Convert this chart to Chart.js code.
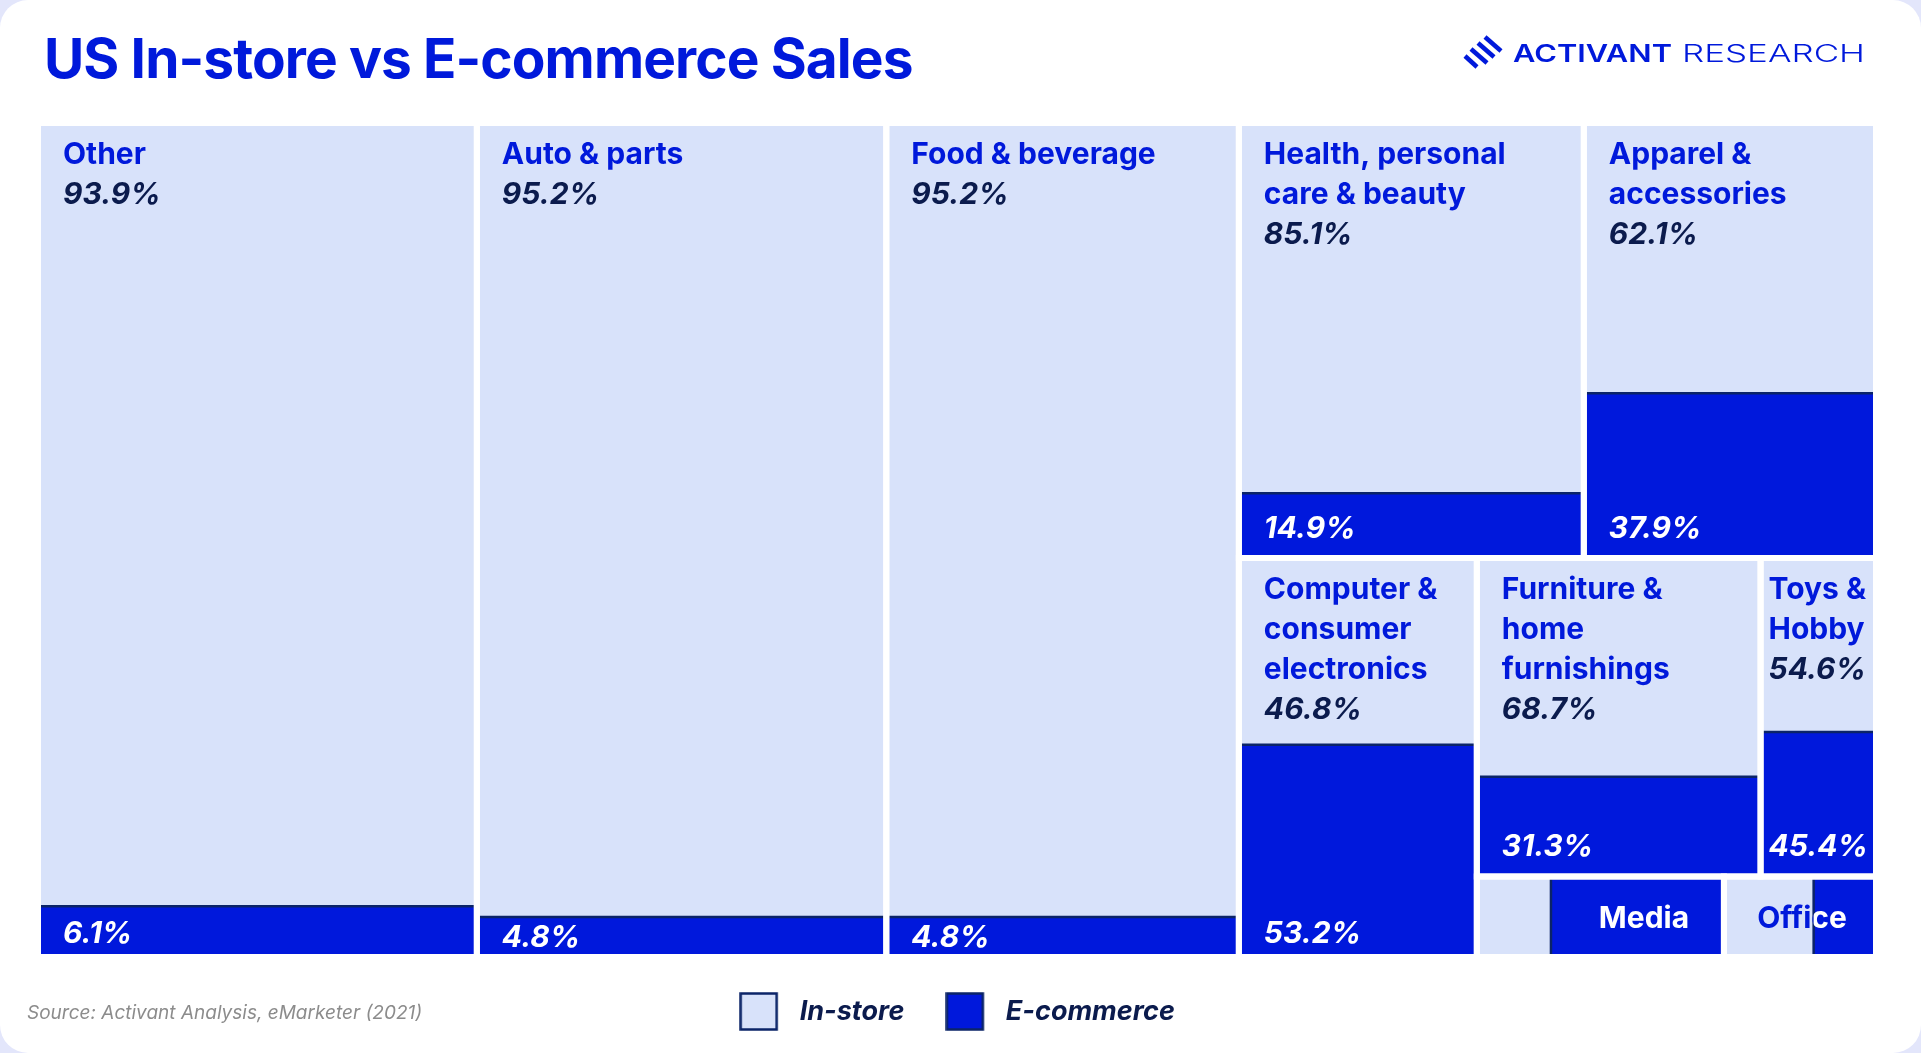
<!DOCTYPE html>
<html>
<head>
<meta charset="utf-8">
<script src="https://cdn.jsdelivr.net/npm/chart.js@4.4.1/dist/chart.umd.min.js"></script>
<style>
  html, body { margin: 0; padding: 0; width: 1921px; height: 1053px; overflow: hidden; background: #e3e6fb; }
  #card { position: absolute; left: 0; top: 0; width: 1921px; height: 1053px; background: #ffffff; border-radius: 28px; overflow: hidden; }
  #chartWrap { position: absolute; left: 0; top: 0; width: 1921px; height: 1053px; }
  #title { position: absolute; left: 44px; top: 30.5px; font-family: Inter, 'Noto Sans', sans-serif; font-weight: 700; font-size: 55px; line-height: 1; color: #0019db; letter-spacing: -0.9px; white-space: nowrap; }
  #logo { position: absolute; left: 1455px; top: 28px; }
  #source { position: absolute; left: 27px; top: 1003px; font-family: Inter, 'Noto Sans', sans-serif; font-style: italic; font-weight: 400; font-size: 19px; line-height: 1; color: #8c8c8c; letter-spacing: 0px; white-space: nowrap; }
</style>
</head>
<body>
<div id="card">
  <div id="chartWrap"><canvas id="chart"></canvas></div>
  <div id="title">US In-store vs E-commerce Sales</div>
  <svg id="logo" width="430" height="50" viewBox="0 0 430 50">
    <g transform="translate(8,8)" stroke="#0019db" stroke-width="4.5" stroke-linecap="butt">
      <line x1="22" y1="1" x2="38" y2="15"/>
      <line x1="15" y1="7" x2="31" y2="21"/>
      <line x1="8" y1="13" x2="24" y2="27"/>
      <line x1="2" y1="20" x2="14" y2="31"/>
    </g>
    <text x="58" y="34.3" fill="#0019db" font-family="Inter, 'Noto Sans', sans-serif" font-size="24" font-weight="600" textLength="159" lengthAdjust="spacingAndGlyphs">ACTIVANT</text>
    <text x="227" y="34.3" fill="#0019db" font-family="Inter, 'Noto Sans', sans-serif" font-size="24" font-weight="300" textLength="183" lengthAdjust="spacingAndGlyphs">RESEARCH</text>
  </svg>
  <div id="source">Source: Activant Analysis, eMarketer (2021)</div>
</div>
<script>
// ---------------- data ----------------
const categories = ['Other', 'Auto & parts', 'Food & beverage', 'Health, personal care & beauty',
  'Apparel & accessories', 'Computer & consumer electronics', 'Furniture & home furnishings',
  'Toys & Hobby', 'Media', 'Office'];
const labelLines = [['Other'], ['Auto & parts'], ['Food & beverage'], ['Health, personal', 'care & beauty'],
  ['Apparel &', 'accessories'], ['Computer &', 'consumer', 'electronics'], ['Furniture &', 'home', 'furnishings'],
  ['Toys &', 'Hobby'], ['Media'], ['Office']];
// share of total US retail sales (tile area), %
const totalSalesShare = [23.9, 22.3, 19.2, 9.8, 8.3, 6.2, 5.9, 2.4, 1.3, 0.8];
const inStorePct = [93.9, 95.2, 95.2, 85.1, 62.1, 46.8, 68.7, 54.6, 30.0, 59.0];
const eCommercePct = [6.1, 4.8, 4.8, 14.9, 37.9, 53.2, 31.3, 45.4, 70.0, 41.0];
const seriesNames = ['In-store', 'E-commerce'];
// treemap nesting: 'h' = tiles side by side, 'v' = tiles stacked
const nesting = ['h', 0, 1, 2, ['v', ['h', 3, 4], ['h', 5, ['v', ['h', 6, 7], ['h', 8, 9]]]]];

// ---------------- style ----------------
const LIGHT = '#d8e2fa', BLUE = '#0018dc', NAVY = '#0b1b4d', LINE_NAVY = '#0b2468', TEXT_BLUE = '#0019db';
const FAMILY = "Inter, 'Noto Sans', sans-serif";
const GAP = 6;

// ---------------- layout (slice & dice along the nesting) ----------------
function nodeSize(n) { return typeof n === 'number' ? totalSalesShare[n] : n.slice(1).reduce((s, c) => s + nodeSize(c), 0); }
const cells = [];
function layout(n, x0, y0, x1, y1) {
  if (typeof n === 'number') { cells[n] = { x0, y0, x1, y1 }; return; }
  const dir = n[0], kids = n.slice(1), tot = nodeSize(n);
  let acc = 0;
  kids.forEach(k => {
    const a = acc / tot, b = (acc + nodeSize(k)) / tot;
    if (dir === 'h') layout(k, x0 + (x1 - x0) * a, y0, x0 + (x1 - x0) * b, y1);
    else layout(k, x0, y0 + (y1 - y0) * a, x1, y0 + (y1 - y0) * b);
    acc += nodeSize(k);
  });
}
layout(nesting, 0, 0, 1, 1);
cells.forEach((c, i) => {
  c.horizontal = (c.y1 - c.y0) < 0.12;        // short tiles split left/right
  const f = inStorePct[i] / (inStorePct[i] + eCommercePct[i]);
  if (c.horizontal) c.split = c.x0 + (c.x1 - c.x0) * f;
  else c.split = c.y0 + (c.y1 - c.y0) * f;
});

function rectPts(x0, y0, x1, y1) { return [{x: x0, y: y0}, {x: x1, y: y0}, {x: x1, y: y1}, {x: x0, y: y1}, {x: x0, y: y0}]; }

const datasets = [];
cells.forEach((c, i) => {
  const inRect = c.horizontal ? rectPts(c.x0, c.y0, c.split, c.y1) : rectPts(c.x0, c.y0, c.x1, c.split);
  const eRect = c.horizontal ? rectPts(c.split, c.y0, c.x1, c.y1) : rectPts(c.x0, c.split, c.x1, c.y1);
  const base = { type: 'line', fill: 'shape', borderWidth: 0, pointRadius: 0, tension: 0, order: 3 };
  datasets.push(Object.assign({}, base, { label: categories[i] + ' – ' + seriesNames[0], data: inRect, backgroundColor: LIGHT }));
  datasets.push(Object.assign({}, base, { label: categories[i] + ' – ' + seriesNames[1], data: eRect, backgroundColor: BLUE }));
  const sep = c.horizontal ? [{x: c.split, y: c.y0}, {x: c.split, y: c.y1}] : [{x: c.x0, y: c.split}, {x: c.x1, y: c.split}];
  datasets.push({ type: 'line', label: categories[i] + ' split', data: sep, fill: false, borderColor: LINE_NAVY, borderWidth: 2.5, pointRadius: 0, order: 2 });
  datasets.push({ type: 'line', label: categories[i] + ' outline', data: rectPts(c.x0, c.y0, c.x1, c.y1), fill: false,
    borderColor: '#ffffff', borderWidth: GAP, borderJoinStyle: 'miter', borderCapStyle: 'square', pointRadius: 0, order: 1 });
});

// ---------------- labels plugin ----------------
const NAME_FONT = `700 30px ${FAMILY}`;
const PCT_FONT = `italic 700 30px ${FAMILY}`;
const LINE_STEP = 40;
const cellLabels = {
  id: 'cellLabels',
  afterDatasetsDraw(chart) {
    const ctx = chart.ctx, xs = chart.scales.x, ys = chart.scales.y, h = GAP / 2;
    ctx.save();
    ctx.textBaseline = 'alphabetic';
    ctx.textAlign = 'left';
    cells.forEach((c, i) => {
      const L = xs.getPixelForValue(c.x0) + h, R = xs.getPixelForValue(c.x1) - h;
      const T = ys.getPixelForValue(c.y0) + h, B = ys.getPixelForValue(c.y1) - h;
      if (c.horizontal) {
        const sx = xs.getPixelForValue(c.split);
        ctx.font = NAME_FONT;
        const text = labelLines[i].join(' ');
        const w = ctx.measureText(text).width;
        const cx = (w + 40 <= R - sx) ? (sx + R) / 2 + 8 : (L + R) / 2 + 2;
        const tx = cx - w / 2, ty = (T + B) / 2 + 11;
        ctx.save(); ctx.beginPath(); ctx.rect(L, T, sx - L, B - T); ctx.clip();
        ctx.fillStyle = TEXT_BLUE; ctx.fillText(text, tx, ty); ctx.restore();
        ctx.save(); ctx.beginPath(); ctx.rect(sx, T, R - sx, B - T); ctx.clip();
        ctx.fillStyle = '#ffffff'; ctx.fillText(text, tx, ty); ctx.restore();
        return;
      }
      const inTxt = inStorePct[i].toFixed(1) + '%', eTxt = eCommercePct[i].toFixed(1) + '%';
      ctx.font = NAME_FONT;
      let maxW = Math.max(...labelLines[i].map(l => ctx.measureText(l).width));
      ctx.font = PCT_FONT;
      maxW = Math.max(maxW, ctx.measureText(inTxt).width, ctx.measureText(eTxt).width);
      const pad = Math.max(4, Math.min(22, (R - L - maxW) / 2));
      let y = T + 38;
      ctx.font = NAME_FONT; ctx.fillStyle = TEXT_BLUE;
      labelLines[i].forEach(l => { ctx.fillText(l, L + pad, y); y += LINE_STEP; });
      ctx.font = PCT_FONT; ctx.fillStyle = NAVY;
      ctx.fillText(inTxt, L + pad, y);
      const eTop = ys.getPixelForValue(c.split);
      const atBottom = c.y1 > 0.999;
      let base = B - (atBottom ? 11 : 17);
      base = Math.max(base, eTop + 30);
      ctx.fillStyle = '#ffffff';
      ctx.fillText(eTxt, L + pad, base);
    });
    ctx.restore();
  }
};

// legend swatches: 36px boxes with a navy outline, drawn at the left of a wider slot
function swatch(fill) {
  const cv = document.createElement('canvas');
  cv.width = 47; cv.height = 39;
  const g = cv.getContext('2d');
  g.fillStyle = fill; g.fillRect(1.5, 1.5, 36, 36);
  g.strokeStyle = LINE_NAVY; g.lineWidth = 2.5; g.strokeRect(1.5, 1.5, 36, 36);
  return cv;
}
const swatches = [swatch(LIGHT), swatch(BLUE)];

new Chart(document.getElementById('chart'), {
  type: 'line',
  data: { datasets },
  options: {
    responsive: true,
    maintainAspectRatio: false,
    animation: false,
    events: [],
    layout: { padding: { left: 38, right: 45, top: 123, bottom: 18 } },
    scales: {
      x: { type: 'linear', min: 0, max: 1, display: false },
      y: { type: 'linear', min: 0, max: 1, reverse: true, display: false }
    },
    plugins: {
      tooltip: { enabled: false },
      title: { display: false },
      legend: {
        position: 'bottom',
        align: 'center',
        onClick: null,
        labels: {
          usePointStyle: true,
          pointStyleWidth: 47,
          boxHeight: 27,
          padding: 41,
          color: NAVY,
          font: { family: FAMILY, size: 27, style: 'italic', weight: 'bold' },
          generateLabels: () => seriesNames.map((name, k) => ({
            text: name,
            fillStyle: k === 0 ? LIGHT : BLUE,
            strokeStyle: LINE_NAVY,
            lineWidth: 2.5,
            pointStyle: swatches[k],
            fontColor: NAVY,
            hidden: false,
            datasetIndex: k
          }))
        }
      }
    }
  },
  plugins: [cellLabels]
});
</script>
</body>
</html>
